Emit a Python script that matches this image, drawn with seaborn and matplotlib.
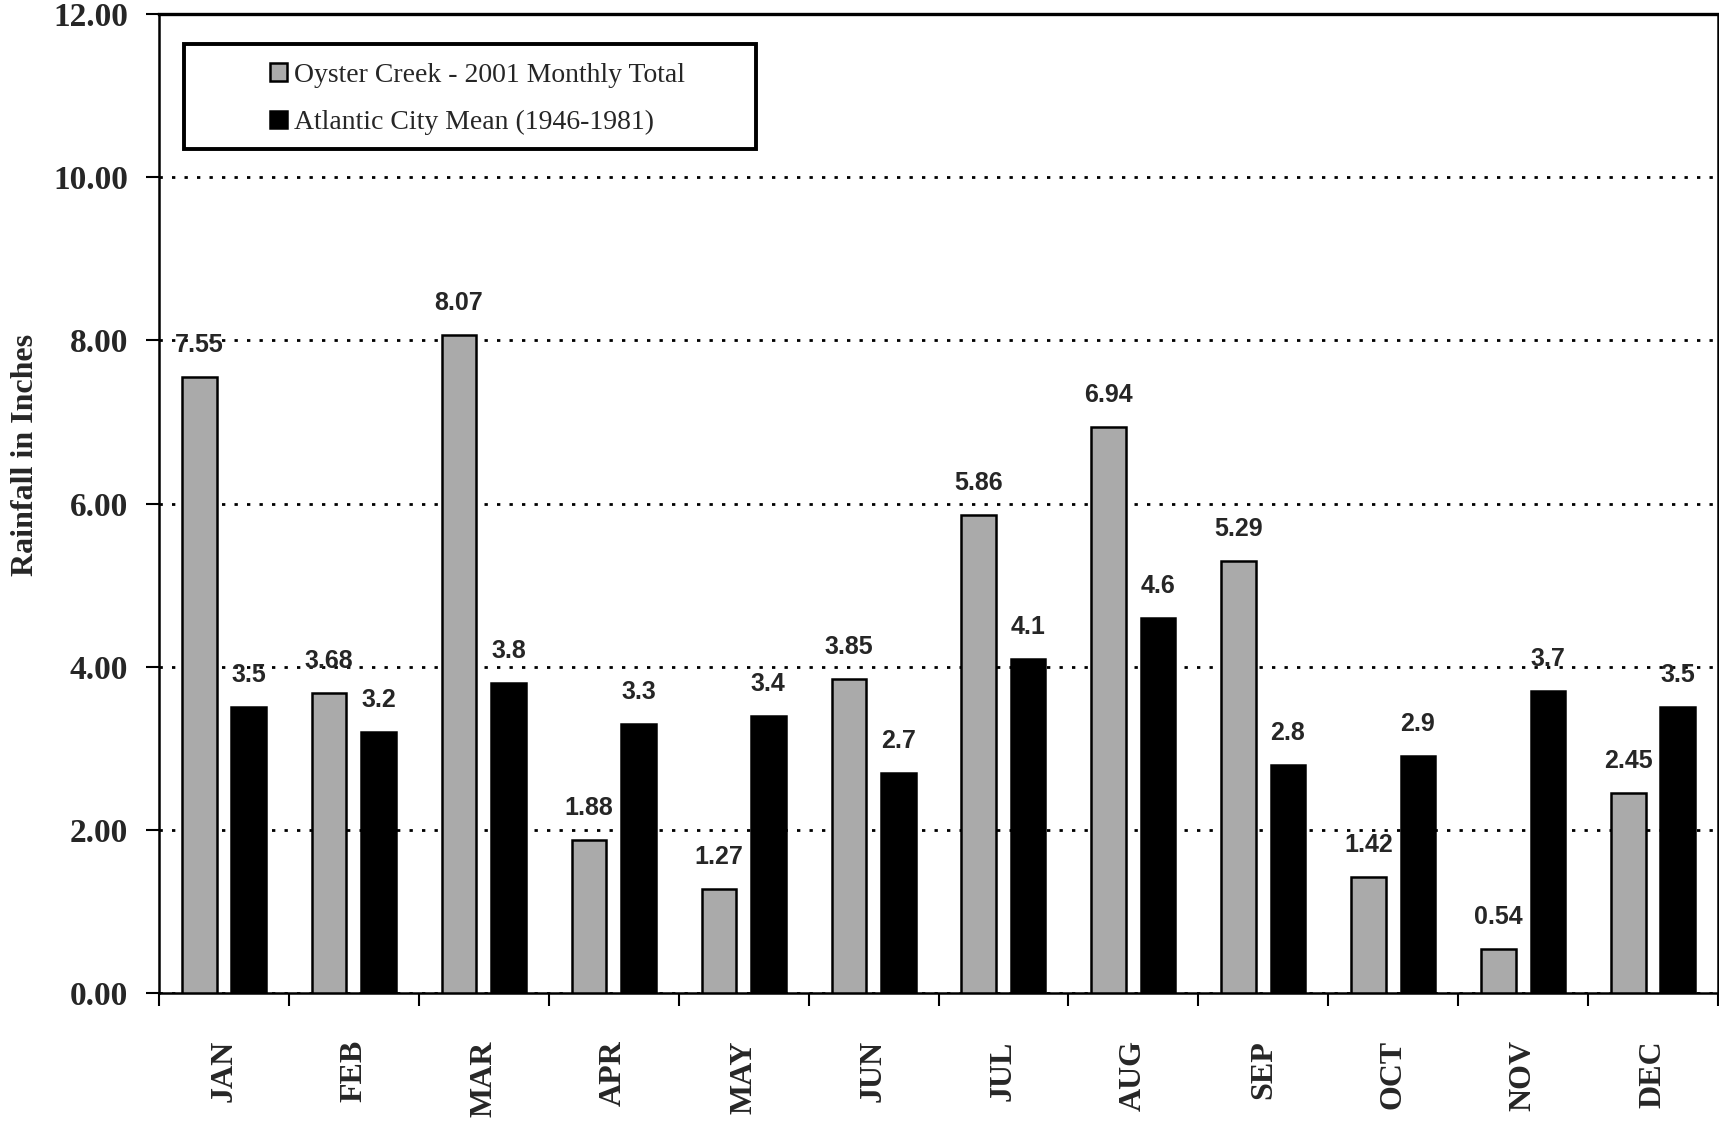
import matplotlib
matplotlib.use("Agg")
import matplotlib.pyplot as plt
from matplotlib.patches import Rectangle
from matplotlib.ticker import FixedLocator, FormatStrFormatter
import numpy as np
import pandas as pd
import seaborn as sns

# Monthly rainfall (inches)
months = ["JAN", "FEB", "MAR", "APR", "MAY", "JUN",
          "JUL", "AUG", "SEP", "OCT", "NOV", "DEC"]
oyster_creek_2001 = [7.55, 3.68, 8.07, 1.88, 1.27, 3.85,
                     5.86, 6.94, 5.29, 1.42, 0.54, 2.45]
atlantic_city_mean = [3.5, 3.2, 3.8, 3.3, 3.4, 2.7,
                      4.1, 4.6, 2.8, 2.9, 3.7, 3.5]
series_names = ["Oyster Creek - 2001 Monthly Total",
                "Atlantic City Mean (1946-1981)"]
y_ticks = [0, 2, 4, 6, 8, 10, 12]

df = pd.DataFrame({
    "month": months * 2,
    "rain": oyster_creek_2001 + atlantic_city_mean,
    "series": [series_names[0]] * 12 + [series_names[1]] * 12,
})

sns.set_style("white")
plt.rcParams["font.family"] = ["Liberation Serif", "DejaVu Serif"]

fig = plt.figure(figsize=(17.19, 11.25), dpi=100)
ax = fig.add_axes([159 / 1719, 1 - 993 / 1125, 1559 / 1719, 979 / 1125])

sns.barplot(data=df, x="month", y="rain", hue="series", order=months,
            hue_order=series_names, palette=["#aaaaaa", "#000000"],
            width=0.76, gap=0.30, edgecolor="black", linewidth=1.8,
            legend=False, ax=ax, zorder=3)

ax.set_xlim(-0.5, len(months) - 0.5)
ax.set_ylim(0, 12)

# dotted horizontal grid
ax.yaxis.grid(True, color="black", linewidth=2.0,
              linestyle=(0, (1.2, 3.3)))
ax.xaxis.grid(False)
ax.set_axisbelow(True)

for side in ["left", "bottom", "top", "right"]:
    ax.spines[side].set_visible(True)
    ax.spines[side].set_color("black")
    ax.spines[side].set_linewidth(1.8)
ax.spines["top"].set_linewidth(2.4)

# y axis
ax.yaxis.set_major_locator(FixedLocator(y_ticks))
ax.yaxis.set_major_formatter(FormatStrFormatter("%.2f"))
ax.tick_params(axis="y", which="major", direction="out", length=9.5,
               width=1.5, color="black", pad=13, left=True)
for lbl in ax.get_yticklabels():
    lbl.set_fontsize(24)
    lbl.set_fontweight("bold")

# x axis: labels at group centres, tick marks at group boundaries
ax.set_xticks(np.arange(len(months)))
ax.set_xticks(np.arange(-0.5, len(months)), minor=True)
ax.tick_params(axis="x", which="major", length=0, pad=34, bottom=True)
ax.tick_params(axis="x", which="minor", direction="out", length=9.5,
               width=1.5, color="black", bottom=True)
ax.set_xticklabels(months, rotation=90, fontsize=23, fontweight="bold")
ax.set_xlabel("")

ax.set_ylabel("Rainfall in Inches", fontsize=23, fontweight="bold")
ax.yaxis.set_label_coords(-0.0763, 0.5495)

# value labels above each bar
label_sets = [[f"{v:.2f}" for v in oyster_creek_2001],
              [f"{v:g}" for v in atlantic_city_mean]]
for cont, lbls in zip(ax.containers, label_sets):
    texts = ax.bar_label(cont, labels=lbls, padding=18, fontsize=18,
                         fontweight="bold",
                         family=["Liberation Sans", "DejaVu Sans"])
    for t in texts:
        t.set_va("baseline")

# legend with boxed frame
leg = ax.legend(ax.containers, series_names, loc="upper left",
                bbox_to_anchor=(0.0712, 0.950), frameon=False,
                borderpad=0, borderaxespad=0, fontsize=20,
                handlelength=0.6, handleheight=0.6, handletextpad=0.25,
                labelspacing=0.8)
ax.add_patch(Rectangle((0.016, 0.862), 0.367, 0.1074, transform=ax.transAxes,
                       fill=False, edgecolor="black", linewidth=2.8,
                       zorder=5))

fig.savefig("out.png", dpi=100)
